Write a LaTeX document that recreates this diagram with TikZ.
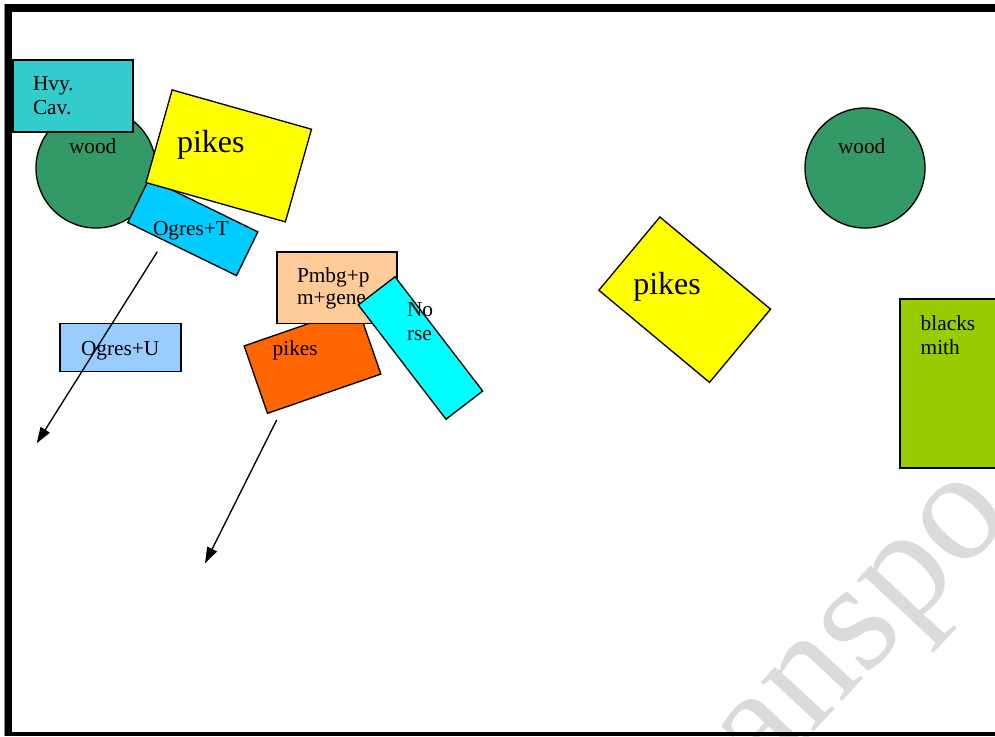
\documentclass[tikz,border=0pt]{standalone}
\usepackage{fontspec}
\setmainfont{Liberation Serif}
\usetikzlibrary{arrows.meta}

\definecolor{cavteal}{HTML}{33CCCC}
\definecolor{woodgreen}{HTML}{339966}
\definecolor{pikeyellow}{HTML}{FFFF00}
\definecolor{ogreT}{HTML}{00CCFF}
\definecolor{ogreU}{HTML}{99CCFF}
\definecolor{peach}{HTML}{FFCC99}
\definecolor{pikeorange}{HTML}{FF6600}
\definecolor{norsecyan}{HTML}{00FFFF}
\definecolor{smithgreen}{HTML}{99CC00}

\tikzset{
  shp/.style={draw=black, line width=1pt, inner sep=0pt, outer sep=0pt},
  unitbox/.style={shp, rectangle},
  woodspot/.style={shp, circle, fill=woodgreen, minimum size=90pt},
  lbl/.style={anchor=base west, inner sep=0pt, outer sep=0pt,
              font=\fontsize{16}{18.5}\selectfont},
  biglbl/.style={lbl, font=\fontsize{24}{28}\selectfont},
  move/.style={-{Triangle[length=12pt,width=8pt]}, line width=1pt},
  wmark/.style={anchor=base west, inner sep=0pt, text=black!14,
                font=\fontsize{118}{118}\selectfont},
}

\begin{document}
\begin{tikzpicture}[x=0.75pt,y=-0.75pt]
\useasboundingbox (0,0) rectangle (995,736);
\clip (0,0) rectangle (995,736);
\fill[white] (0,0) rectangle (995,736);

% faint watermark lettering
\node[wmark, rotate=47] (wm) at (764,786) {anspo};

% wood, cavalry and pike block on the left
\node[woodspot] (woodL) at (96,168) {};
\node[lbl] (woodLt) at (69,153) {wood};
\node[unitbox, fill=cavteal, minimum width=90pt, minimum height=54pt] (hvy) at (73,96) {};
\node[lbl] (hvyt1) at (33,90) {Hvy.};
\node[lbl] (hvyt2) at (33,114.3) {Cav.};
\node[unitbox, fill=ogreT, minimum width=90.75pt, minimum height=36.5pt, rotate=-26] (ogT) at (192.8,227.2) {};
\node[lbl] (ogTt) at (153,235.5) {Ogres+T};
\node[unitbox, fill=pikeyellow, minimum width=108.6pt, minimum height=72.2pt, rotate=-15.75] (pkA) at (228.75,155.9) {};
\node[biglbl] (pkAt) at (177,152) {pikes};

\node[unitbox, fill=ogreU, minimum width=90.75pt, minimum height=36pt] (ogU) at (120.5,347.5) {};
\node[lbl] (ogUt) at (81,355) {Ogres+U};

% centre group
\node[unitbox, fill=pikeorange, minimum width=90pt, minimum height=53.5pt, rotate=19.1] (pkB) at (312.5,360) {};
\node[lbl] (pkBt) at (272.7,355) {pikes};
\node[unitbox, fill=peach, minimum width=90pt, minimum height=53.6pt] (pmbg) at (337,287.75) {};
\node[lbl] (pmbgt1) at (297,282.5) {Pmbg+p};
\node[lbl] (pmbgt2) at (297,304) {m+gene};
\node[unitbox, fill=norsecyan, minimum width=108pt, minimum height=34.7pt, rotate=-52.5] (norse) at (420.5,348) {};
\node[lbl] (norset1) at (407,316.5) {No};
\node[lbl] (norset2) at (407,340.5) {rse};

% right side
\node[unitbox, fill=pikeyellow, minimum width=108pt, minimum height=71.5pt, rotate=-39.8] (pkC) at (684.7,299.7) {};
\node[biglbl] (pkCt) at (633.3,294) {pikes};
\node[woodspot] (woodR) at (865,168) {};
\node[lbl] (woodRt) at (838,153) {wood};
\node[unitbox, fill=smithgreen, minimum width=90pt, minimum height=126.75pt] (smith) at (960,383.5) {};
\node[lbl] (smitht1) at (920.7,330) {blacks};
\node[lbl] (smitht2) at (920.7,354.5) {mith};

% movement arrows
\coordinate (m1s) at (157.3,251.7);
\coordinate (m1e) at (36.7,443.3);
\coordinate (m2s) at (276.7,420);
\coordinate (m2e) at (205,563.3);
\draw[move] (m1s) -- (m1e);
\draw[move] (m2s) -- (m2e);

% page frame
\fill[black!45] (4,4) rectangle (5,736);
\fill[black] (5,4) rectangle (12.3,736);
\fill[black] (5,4) rectangle (995,12);
\fill[black] (5,732) rectangle (995,736);
\end{tikzpicture}
\end{document}
